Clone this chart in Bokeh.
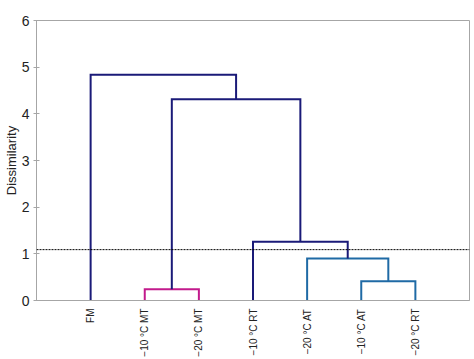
import math
from bokeh.plotting import figure
from bokeh.models import Range1d, FixedTicker, Span, ColumnDataSource
from bokeh.embed import file_html
from bokeh.resources import INLINE

# ---- data ----
leaves = ["FM", "\u221210 \u00b0C MT", "\u221220 \u00b0C MT", "\u221210 \u00b0C RT",
          "\u221220 \u00b0C AT", "\u221210 \u00b0C AT", "\u221220 \u00b0C RT"]
# linkage: (left node, right node, dissimilarity); leaves are nodes 0..6, clusters 7..
merge_left = [1, 5, 4, 3, 7, 0]
merge_right = [2, 6, 8, 9, 10, 11]
merge_height = [0.24, 0.41, 0.90, 1.26, 4.31, 4.84]
merge_color = ["#c21a8c", "#1f6aa5", "#1f6aa5", "#1a1a78", "#1a1a78", "#1a1a78"]
threshold = 1.09
y_ticks = [0, 1, 2, 3, 4, 5, 6]

# ---- build dendrogram segments ----
n = len(leaves)
pos = {i: i + 1 for i in range(n)}
hgt = {i: 0.0 for i in range(n)}
xs, ys, cols = [], [], []
for k, (a, b, h, c) in enumerate(zip(merge_left, merge_right, merge_height, merge_color)):
    xa, xb = pos[a], pos[b]
    xs.append([xa, xa, xb, xb])
    ys.append([hgt[a], h, h, hgt[b]])
    cols.append(c)
    node = n + k
    pos[node] = (xa + xb) / 2
    hgt[node] = h

src = ColumnDataSource(dict(xs=xs, ys=ys, color=cols))

p = figure(width=474, height=359, output_backend="svg", toolbar_location=None,
           x_range=Range1d(0, n + 1), y_range=Range1d(0, 6),
           min_border_left=35, min_border_right=5, min_border_top=20, min_border_bottom=59)
p.background_fill_color = "white"
p.border_fill_color = "white"
p.outline_line_color = "#a6a6a6"
p.outline_line_width = 1
p.grid.visible = False

p.multi_line(xs="xs", ys="ys", line_color="color", line_width=2, line_join="miter", source=src)

p.add_layout(Span(location=threshold, dimension="width", line_color="black",
                  line_dash="2 1", line_width=1))

# y axis
p.yaxis.ticker = FixedTicker(ticks=y_ticks)
p.yaxis.axis_label = "Dissimilarity"
p.yaxis.axis_label_text_font = "Liberation Sans"
p.yaxis.axis_label_text_font_style = "normal"
p.yaxis.axis_label_text_font_size = "13px"
p.yaxis.axis_label_text_color = "#222222"
p.yaxis.axis_label_standoff = 0
p.yaxis.major_label_text_font = "Liberation Sans"
p.yaxis.major_label_text_font_size = "14px"
p.yaxis.major_label_text_color = "#222222"
p.yaxis.major_label_standoff = 4
p.yaxis.axis_line_color = "#a6a6a6"
p.yaxis.major_tick_line_color = "#a6a6a6"
p.yaxis.major_tick_in = 3
p.yaxis.major_tick_out = 3
p.yaxis.minor_tick_line_color = None

# x axis
p.xaxis.ticker = FixedTicker(ticks=list(range(1, n + 1)))
p.xaxis.major_label_overrides = {i + 1: lab for i, lab in enumerate(leaves)}
p.xaxis.major_label_orientation = math.pi / 2
p.xaxis.major_label_text_font = "Liberation Sans"
p.xaxis.major_label_text_font_size = "10px"
p.xaxis.major_label_text_color = "#222222"
p.xaxis.major_label_standoff = 2
p.xaxis.axis_line_color = "#a6a6a6"
p.xaxis.major_tick_line_color = None
p.xaxis.minor_tick_line_color = None

open("out.html", "w").write(file_html(p, INLINE))
